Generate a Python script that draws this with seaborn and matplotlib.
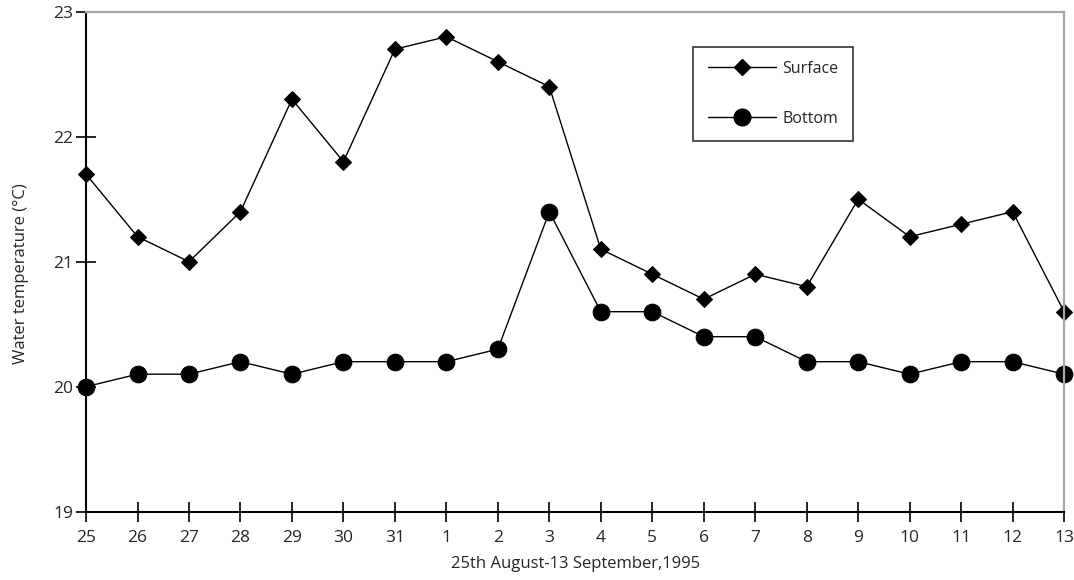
import numpy as np
import pandas as pd
import matplotlib
matplotlib.use("Agg")
import matplotlib.pyplot as plt
import seaborn as sns
from matplotlib.lines import Line2D

# Daily water temperature, 25 Aug - 13 Sep 1995
days = ["25", "26", "27", "28", "29", "30", "31", "1", "2", "3",
        "4", "5", "6", "7", "8", "9", "10", "11", "12", "13"]
surface = [21.7, 21.2, 21.0, 21.4, 22.3, 21.8, 22.7, 22.8, 22.6, 22.4,
           21.1, 20.9, 20.7, 20.9, 20.8, 21.5, 21.2, 21.3, 21.4, 20.6]
bottom = [20.0, 20.1, 20.1, 20.2, 20.1, 20.2, 20.2, 20.2, 20.3, 21.4,
          20.6, 20.6, 20.4, 20.4, 20.2, 20.2, 20.1, 20.2, 20.2, 20.1]
y_ticks = [19, 20, 21, 22, 23]

sns.set_theme(style="white")
plt.rcParams["font.family"] = ["Open Sans", "DejaVu Sans"]
text_color = "#262626"

df = pd.DataFrame({"pos": np.arange(len(days)), "day": days,
                   "Surface": surface, "Bottom": bottom})

fig = plt.figure(figsize=(10.74, 5.80), dpi=100)
ax = fig.add_axes([0.0801, 0.1178, 0.9107, 0.862])

sns.lineplot(data=df, x="pos", y="Surface", ax=ax, color="black", lw=1.0,
             marker="D", markersize=8, markeredgecolor="black",
             markerfacecolor="black", sort=False, clip_on=False)
sns.lineplot(data=df, x="pos", y="Bottom", ax=ax, color="black", lw=1.0,
             marker="o", markersize=12, markeredgecolor="black",
             markerfacecolor="black", sort=False, clip_on=False)

ax.set_xlim(0, len(days) - 1)
ax.set_ylim(19, 23)
ax.set_xticks(df["pos"])
ax.set_xticklabels(days)
ax.set_yticks(y_ticks)
ax.set_yticklabels([str(t) for t in y_ticks])

ax.tick_params(axis="both", direction="inout", length=14, width=1.2,
               color="black", labelsize=12.5, labelcolor=text_color,
               bottom=True, left=True)
ax.tick_params(axis="x", pad=6)
ax.tick_params(axis="y", pad=2)

for side in ["left", "bottom"]:
    ax.spines[side].set_color("black")
    ax.spines[side].set_linewidth(1.5)
for side in ["top", "right"]:
    ax.spines[side].set_color("#a8a8a8")
    ax.spines[side].set_linewidth(1.6)

ax.set_xlabel("25th August-13 September,1995", fontsize=12,
              color=text_color)
ax.xaxis.set_label_coords(0.5007, -0.088)
ax.set_ylabel("Water temperature (\u00b0C)", fontsize=12,
              color=text_color)
ax.yaxis.set_label_coords(-0.058, 0.477)

handles = [
    Line2D([], [], color="black", lw=1.0, marker="D", markersize=8),
    Line2D([], [], color="black", lw=1.0, marker="o", markersize=12),
]
leg = ax.legend(handles, ["Surface", "Bottom"], loc="upper left",
                bbox_to_anchor=(0.6207, 0.93), frameon=True, fancybox=False,
                edgecolor="black", fontsize=11.5, handlelength=4.3,
                handletextpad=0.4, labelspacing=2.1, borderpad=0.9,
                borderaxespad=0)
leg.get_frame().set_linewidth(1.2)
for t in leg.get_texts():
    t.set_color(text_color)

fig.savefig("out.png", dpi=100)
